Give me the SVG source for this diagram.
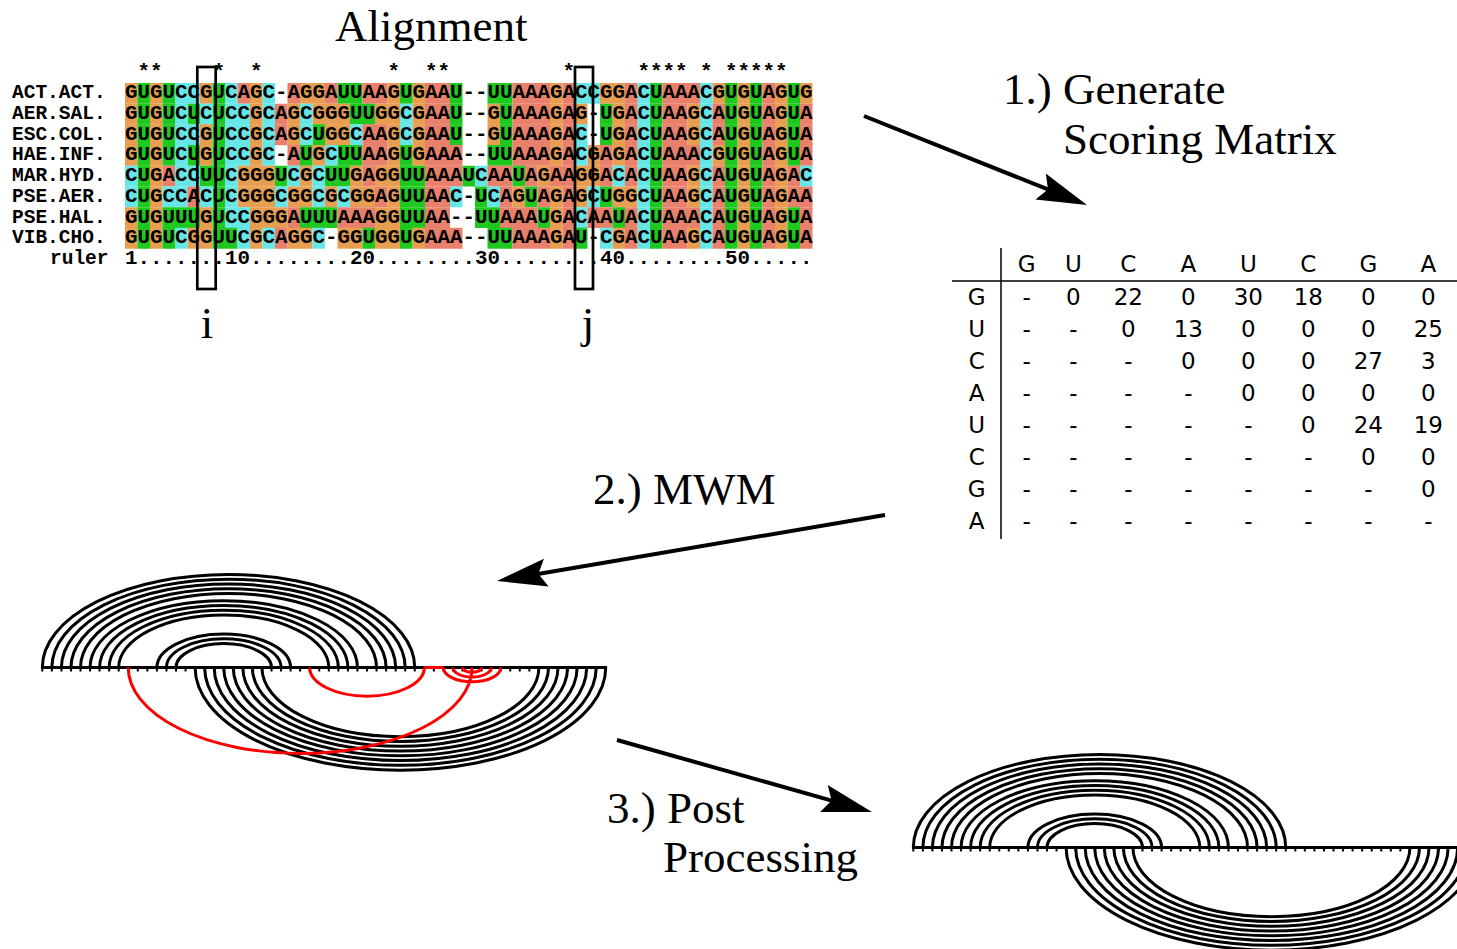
<svg xmlns="http://www.w3.org/2000/svg" width="1457" height="949" viewBox="0 0 1457 949">
<style>
.ttl{font-family:'Liberation Serif','Times New Roman',serif;font-size:45px;fill:#000}
.mono{font-family:'Liberation Mono','DejaVu Sans Mono',monospace;font-weight:bold;fill:#000}
.seq{font-size:20.833px}
.lab{font-size:19.5px}
.cells path{fill:none;stroke-width:20.8}
.cG{stroke:#E89E50}.cA{stroke:#E8806C}.cU{stroke:#1EC81E}.cC{stroke:#66E6E6}
.mx text{font-family:'DejaVu Sans','Liberation Sans',sans-serif;font-size:23px;fill:#000;text-anchor:middle}
.arc{fill:none;stroke:#000;stroke-width:3}
.red{fill:none;stroke:#F00;stroke-width:3}
.shaft{stroke:#000;stroke-width:4;fill:none}
</style>
<defs>
<g id="arcdiag">
<line x1="41" y1="667.5" x2="607" y2="667.5" stroke="#000" stroke-width="3"/>
<line x1="41.3" y1="670" x2="607" y2="670" stroke="#000" stroke-width="3" stroke-dasharray="2 7.55"/>
<path class="arc" d="M42.3 667.5A186.225 93.11 0 0 1 414.75 667.5M51.85 667.5A176.675 88.34 0 0 1 405.2 667.5M61.4 667.5A167.125 83.56 0 0 1 395.65 667.5M70.95 667.5A157.575 78.79 0 0 1 386.1 667.5M80.5 667.5A148.025 74.01 0 0 1 376.55 667.5M90.05 667.5A133.7 66.85 0 0 1 357.45 667.5M99.6 667.5A124.15 62.08 0 0 1 347.9 667.5M109.15 667.5A114.6 57.3 0 0 1 338.35 667.5M118.7 667.5A105.05 52.53 0 0 1 328.8 667.5M156.9 667.5A66.85 33.43 0 0 1 290.6 667.5M166.45 667.5A57.3 28.65 0 0 1 281.05 667.5M176 667.5A47.75 23.88 0 0 1 271.5 667.5"/>
<path class="arc" d="M195.1 667.5A205.325 102.66 0 0 0 605.75 667.5M204.65 667.5A195.775 97.89 0 0 0 596.2 667.5M214.2 667.5A186.225 93.11 0 0 0 586.65 667.5M223.75 667.5A176.675 88.34 0 0 0 577.1 667.5M233.3 667.5A167.125 83.56 0 0 0 567.55 667.5M242.85 667.5A157.575 78.79 0 0 0 558 667.5M252.4 667.5A148.025 74.01 0 0 0 548.45 667.5M261.95 667.5A138.475 69.24 0 0 0 538.9 667.5"/>
</g>
</defs>
<rect width="1457" height="949" fill="#fff"/>

<g id="alignment">
<text class="ttl" x="335" y="41">Alignment</text>
<g class="cells">
<g transform="translate(0,93.35)">
<path class="cG" d="M125 0h12.5M150 0h12.5M200 0h12.5M250 0h12.5M300 0h25M387.5 0h12.5M412.5 0h12.5M550 0h12.5M600 0h25M712.5 0h12.5M737.5 0h12.5M775 0h12.5M800 0h12.5"/>
<path class="cU" d="M137.5 0h12.5M162.5 0h12.5M212.5 0h12.5M337.5 0h25M400 0h12.5M450 0h12.5M487.5 0h25M650 0h12.5M725 0h12.5M750 0h12.5M787.5 0h12.5"/>
<path class="cC" d="M175 0h25M225 0h12.5M262.5 0h12.5M575 0h25M637.5 0h12.5M700 0h12.5"/>
<path class="cA" d="M237.5 0h12.5M287.5 0h12.5M325 0h12.5M362.5 0h25M425 0h25M512.5 0h37.5M562.5 0h12.5M625 0h12.5M662.5 0h37.5M762.5 0h12.5"/>
</g>
<g transform="translate(0,114.05)">
<path class="cG" d="M125 0h12.5M150 0h12.5M250 0h12.5M287.5 0h12.5M312.5 0h37.5M375 0h25M412.5 0h12.5M487.5 0h12.5M550 0h12.5M575 0h12.5M612.5 0h12.5M687.5 0h12.5M737.5 0h12.5M775 0h12.5"/>
<path class="cU" d="M137.5 0h12.5M162.5 0h12.5M187.5 0h12.5M212.5 0h12.5M350 0h25M450 0h12.5M500 0h12.5M600 0h12.5M650 0h12.5M725 0h12.5M750 0h12.5M787.5 0h12.5"/>
<path class="cC" d="M175 0h12.5M200 0h12.5M225 0h25M262.5 0h12.5M300 0h12.5M400 0h12.5M637.5 0h12.5M700 0h12.5"/>
<path class="cA" d="M275 0h12.5M425 0h25M512.5 0h37.5M562.5 0h12.5M625 0h12.5M662.5 0h25M712.5 0h12.5M762.5 0h12.5M800 0h12.5"/>
</g>
<g transform="translate(0,134.75)">
<path class="cG" d="M125 0h12.5M150 0h12.5M200 0h12.5M250 0h12.5M287.5 0h12.5M325 0h25M387.5 0h12.5M412.5 0h12.5M487.5 0h12.5M550 0h12.5M612.5 0h12.5M687.5 0h12.5M737.5 0h12.5M775 0h12.5"/>
<path class="cU" d="M137.5 0h12.5M162.5 0h12.5M212.5 0h12.5M312.5 0h12.5M450 0h12.5M500 0h12.5M600 0h12.5M650 0h12.5M725 0h12.5M750 0h12.5M787.5 0h12.5"/>
<path class="cC" d="M175 0h25M225 0h25M262.5 0h12.5M300 0h12.5M350 0h12.5M400 0h12.5M575 0h12.5M637.5 0h12.5M700 0h12.5"/>
<path class="cA" d="M275 0h12.5M362.5 0h25M425 0h25M512.5 0h37.5M562.5 0h12.5M625 0h12.5M662.5 0h25M712.5 0h12.5M762.5 0h12.5M800 0h12.5"/>
</g>
<g transform="translate(0,155.45)">
<path class="cG" d="M125 0h12.5M150 0h12.5M200 0h12.5M250 0h12.5M312.5 0h12.5M387.5 0h12.5M412.5 0h12.5M550 0h12.5M587.5 0h12.5M612.5 0h12.5M712.5 0h12.5M737.5 0h12.5M775 0h12.5"/>
<path class="cU" d="M137.5 0h12.5M162.5 0h12.5M187.5 0h12.5M212.5 0h12.5M300 0h12.5M337.5 0h25M400 0h12.5M487.5 0h25M650 0h12.5M725 0h12.5M750 0h12.5M787.5 0h12.5"/>
<path class="cC" d="M175 0h12.5M225 0h25M262.5 0h12.5M325 0h12.5M575 0h12.5M637.5 0h12.5M700 0h12.5"/>
<path class="cA" d="M287.5 0h12.5M362.5 0h25M425 0h37.5M512.5 0h37.5M562.5 0h12.5M600 0h12.5M625 0h12.5M662.5 0h37.5M762.5 0h12.5M800 0h12.5"/>
</g>
<g transform="translate(0,176.15)">
<path class="cG" d="M150 0h12.5M237.5 0h37.5M300 0h12.5M350 0h12.5M375 0h25M537.5 0h12.5M575 0h25M687.5 0h12.5M737.5 0h12.5M775 0h12.5"/>
<path class="cU" d="M137.5 0h12.5M200 0h25M275 0h12.5M325 0h25M400 0h25M462.5 0h12.5M512.5 0h12.5M650 0h12.5M725 0h12.5M750 0h12.5"/>
<path class="cC" d="M125 0h12.5M175 0h25M225 0h12.5M287.5 0h12.5M312.5 0h12.5M475 0h12.5M612.5 0h12.5M637.5 0h12.5M700 0h12.5M800 0h12.5"/>
<path class="cA" d="M162.5 0h12.5M362.5 0h12.5M425 0h37.5M487.5 0h25M525 0h12.5M550 0h25M600 0h12.5M625 0h12.5M662.5 0h25M712.5 0h12.5M762.5 0h12.5M787.5 0h12.5"/>
</g>
<g transform="translate(0,196.85)">
<path class="cG" d="M150 0h12.5M237.5 0h37.5M287.5 0h25M325 0h12.5M350 0h25M387.5 0h12.5M512.5 0h12.5M550 0h12.5M575 0h12.5M612.5 0h25M687.5 0h12.5M737.5 0h12.5M775 0h12.5"/>
<path class="cU" d="M137.5 0h12.5M212.5 0h12.5M400 0h25M475 0h12.5M525 0h12.5M600 0h12.5M650 0h12.5M725 0h12.5M750 0h12.5"/>
<path class="cC" d="M125 0h12.5M162.5 0h25M200 0h12.5M225 0h12.5M275 0h12.5M312.5 0h12.5M337.5 0h12.5M450 0h12.5M487.5 0h12.5M587.5 0h12.5M637.5 0h12.5M700 0h12.5"/>
<path class="cA" d="M187.5 0h12.5M375 0h12.5M425 0h25M500 0h12.5M537.5 0h12.5M562.5 0h12.5M662.5 0h25M712.5 0h12.5M762.5 0h12.5M787.5 0h25"/>
</g>
<g transform="translate(0,217.55)">
<path class="cG" d="M125 0h12.5M150 0h12.5M200 0h12.5M250 0h37.5M375 0h25M550 0h12.5M737.5 0h12.5M775 0h12.5"/>
<path class="cU" d="M137.5 0h12.5M162.5 0h37.5M212.5 0h12.5M300 0h37.5M400 0h25M475 0h25M537.5 0h12.5M612.5 0h12.5M650 0h12.5M725 0h12.5M750 0h12.5M787.5 0h12.5"/>
<path class="cC" d="M225 0h25M575 0h12.5M637.5 0h12.5M700 0h12.5"/>
<path class="cA" d="M287.5 0h12.5M337.5 0h37.5M425 0h25M500 0h37.5M562.5 0h12.5M587.5 0h25M625 0h12.5M662.5 0h37.5M712.5 0h12.5M762.5 0h12.5M800 0h12.5"/>
</g>
<g transform="translate(0,238.25)">
<path class="cG" d="M125 0h12.5M150 0h12.5M187.5 0h25M250 0h12.5M287.5 0h25M337.5 0h25M375 0h25M412.5 0h12.5M550 0h12.5M612.5 0h12.5M687.5 0h12.5M737.5 0h12.5M775 0h12.5"/>
<path class="cU" d="M137.5 0h12.5M162.5 0h12.5M212.5 0h25M362.5 0h12.5M400 0h12.5M487.5 0h25M575 0h12.5M650 0h12.5M725 0h12.5M750 0h12.5M787.5 0h12.5"/>
<path class="cC" d="M175 0h12.5M237.5 0h12.5M262.5 0h12.5M312.5 0h12.5M600 0h12.5M637.5 0h12.5M700 0h12.5"/>
<path class="cA" d="M275 0h12.5M425 0h37.5M512.5 0h37.5M562.5 0h12.5M625 0h12.5M662.5 0h25M712.5 0h12.5M762.5 0h12.5M800 0h12.5"/>
</g>
</g>
<text class="mono seq" x="143.75 156.25 218.75 256.25 393.75 431.25 443.75 568.75 643.75 656.25 668.75 681.25 706.25 731.25 743.75 756.25 768.75 781.25" y="78" text-anchor="middle">******************</text>
<g class="mono lab">
<text x="12" y="98.3">ACT.ACT.</text>
<text x="12" y="119">AER.SAL.</text>
<text x="12" y="139.7">ESC.COL.</text>
<text x="12" y="160.4">HAE.INF.</text>
<text x="12" y="181.1">MAR.HYD.</text>
<text x="12" y="201.8">PSE.AER.</text>
<text x="12" y="222.5">PSE.HAL.</text>
<text x="12" y="243.2">VIB.CHO.</text>
<text x="50" y="263.5">ruler</text>
</g>
<g class="mono seq">
<text x="125" y="98.3" textLength="687.5" lengthAdjust="spacing">GUGUCCGUCAGC-AGGAUUAAGUGAAU--UUAAAGACCGGACUAAACGUGUAGUG</text>
<text x="125" y="119" textLength="687.5" lengthAdjust="spacing">GUGUCUCUCCGCAGCGGGUUGGCGAAU--GUAAAGAG-UGACUAAGCAUGUAGUA</text>
<text x="125" y="139.7" textLength="687.5" lengthAdjust="spacing">GUGUCCGUCCGCAGCUGGCAAGCGAAU--GUAAAGAC-UGACUAAGCAUGUAGUA</text>
<text x="125" y="160.4" textLength="687.5" lengthAdjust="spacing">GUGUCUGUCCGC-AUGCUUAAGUGAAA--UUAAAGACGAGACUAAACGUGUAGUA</text>
<text x="125" y="181.1" textLength="687.5" lengthAdjust="spacing">CUGACCUUCGGGUCGCUUGAGGUUAAAUCAAUAGAAGGACACUAAGCAUGUAGAC</text>
<text x="125" y="201.8" textLength="687.5" lengthAdjust="spacing">CUGCCACUCGGGCGGCGCGGAGUUAAC-UCAGUAGAGCUGGCUAAGCAUGUAGAA</text>
<text x="125" y="222.5" textLength="687.5" lengthAdjust="spacing">GUGUUUGUCCGGGAUUUAAAGGUUAA--UUAAAUGACAAUACUAAACAUGUAGUA</text>
<text x="125" y="243.2" textLength="687.5" lengthAdjust="spacing">GUGUCGGUUCGCAGGC-GGUGGUGAAA--UUAAAGAU-CGACUAAGCAUGUAGUA</text>
<text x="125" y="263.5" textLength="687.5" lengthAdjust="spacing">1.......10........20........30........40........50.....</text>
</g>
<rect x="197.3" y="67" width="18.4" height="222" fill="none" stroke="#000" stroke-width="2.7"/>
<rect x="575" y="67" width="18" height="222" fill="none" stroke="#000" stroke-width="2.7"/>
<text class="ttl" x="207" y="338" text-anchor="middle">i</text>
<text class="ttl" x="588" y="338" text-anchor="middle">j</text>
</g>

<g id="matrix" class="mx">
<line x1="1001" y1="248" x2="1001" y2="539" stroke="#000" stroke-width="1.5"/>
<line x1="952" y1="281" x2="1457" y2="281" stroke="#000" stroke-width="1.5"/>
<text x="1026.7" y="272">G</text><text x="1073.3" y="272">U</text><text x="1128.3" y="272">C</text><text x="1188.3" y="272">A</text><text x="1248.3" y="272">U</text><text x="1308.3" y="272">C</text><text x="1368.3" y="272">G</text><text x="1428.3" y="272">A</text>
<text x="976.7" y="305">G</text>
<text x="976.7" y="337">U</text>
<text x="976.7" y="369">C</text>
<text x="976.7" y="401">A</text>
<text x="976.7" y="433">U</text>
<text x="976.7" y="465">C</text>
<text x="976.7" y="497">G</text>
<text x="976.7" y="529">A</text>
<text x="1026.7" y="305">-</text><text x="1073.3" y="305">0</text><text x="1128.3" y="305">22</text><text x="1188.3" y="305">0</text><text x="1248.3" y="305">30</text><text x="1308.3" y="305">18</text><text x="1368.3" y="305">0</text><text x="1428.3" y="305">0</text>
<text x="1026.7" y="337">-</text><text x="1073.3" y="337">-</text><text x="1128.3" y="337">0</text><text x="1188.3" y="337">13</text><text x="1248.3" y="337">0</text><text x="1308.3" y="337">0</text><text x="1368.3" y="337">0</text><text x="1428.3" y="337">25</text>
<text x="1026.7" y="369">-</text><text x="1073.3" y="369">-</text><text x="1128.3" y="369">-</text><text x="1188.3" y="369">0</text><text x="1248.3" y="369">0</text><text x="1308.3" y="369">0</text><text x="1368.3" y="369">27</text><text x="1428.3" y="369">3</text>
<text x="1026.7" y="401">-</text><text x="1073.3" y="401">-</text><text x="1128.3" y="401">-</text><text x="1188.3" y="401">-</text><text x="1248.3" y="401">0</text><text x="1308.3" y="401">0</text><text x="1368.3" y="401">0</text><text x="1428.3" y="401">0</text>
<text x="1026.7" y="433">-</text><text x="1073.3" y="433">-</text><text x="1128.3" y="433">-</text><text x="1188.3" y="433">-</text><text x="1248.3" y="433">-</text><text x="1308.3" y="433">0</text><text x="1368.3" y="433">24</text><text x="1428.3" y="433">19</text>
<text x="1026.7" y="465">-</text><text x="1073.3" y="465">-</text><text x="1128.3" y="465">-</text><text x="1188.3" y="465">-</text><text x="1248.3" y="465">-</text><text x="1308.3" y="465">-</text><text x="1368.3" y="465">0</text><text x="1428.3" y="465">0</text>
<text x="1026.7" y="497">-</text><text x="1073.3" y="497">-</text><text x="1128.3" y="497">-</text><text x="1188.3" y="497">-</text><text x="1248.3" y="497">-</text><text x="1308.3" y="497">-</text><text x="1368.3" y="497">-</text><text x="1428.3" y="497">0</text>
<text x="1026.7" y="529">-</text><text x="1073.3" y="529">-</text><text x="1128.3" y="529">-</text><text x="1188.3" y="529">-</text><text x="1248.3" y="529">-</text><text x="1308.3" y="529">-</text><text x="1368.3" y="529">-</text><text x="1428.3" y="529">-</text>
</g>

<g id="mwm-diagram">
<use href="#arcdiag"/>
<path class="red" d="M128.25 667.5A171.9 85.95 0 0 0 472.05 667.5M309.7 667.5A57.3 28.65 0 0 0 424.3 667.5M424.3 667.5H443.4M443.4 667.5A28.65 14.33 0 0 0 500.7 667.5M452.95 667.5A19.1 9.55 0 0 0 491.15 667.5M462.5 667.5A9.55 4.78 0 0 0 481.6 667.5"/>
</g>

<g id="post-diagram">
<use href="#arcdiag" transform="translate(871,180)"/>
</g>

<g id="step-labels">
<text class="ttl" x="1003" y="104">1.) Generate</text>
<text class="ttl" x="1063" y="154">Scoring Matrix</text>
<text class="ttl" x="593" y="504">2.) MWM</text>
<text class="ttl" x="607" y="823">3.) Post</text>
<text class="ttl" x="663" y="872">Processing</text>
</g>

<g id="connectors">
<line class="shaft" x1="864" y1="116" x2="1049.8" y2="190.2"/>
<polygon points="1087,205 1035.4,199.5 1048,189.4 1045.8,173.5" fill="#000"/>
<line class="shaft" x1="885" y1="515" x2="536.4" y2="574.3"/>
<polygon points="497,581 543.95,558.8 538.4,574 548.65,586.4" fill="#000"/>
<line class="shaft" x1="617" y1="740" x2="833.5" y2="801.1"/>
<polygon points="872,812 820.1,811.9 831.6,800.6 827.7,784.9" fill="#000"/>
</g>
</svg>
